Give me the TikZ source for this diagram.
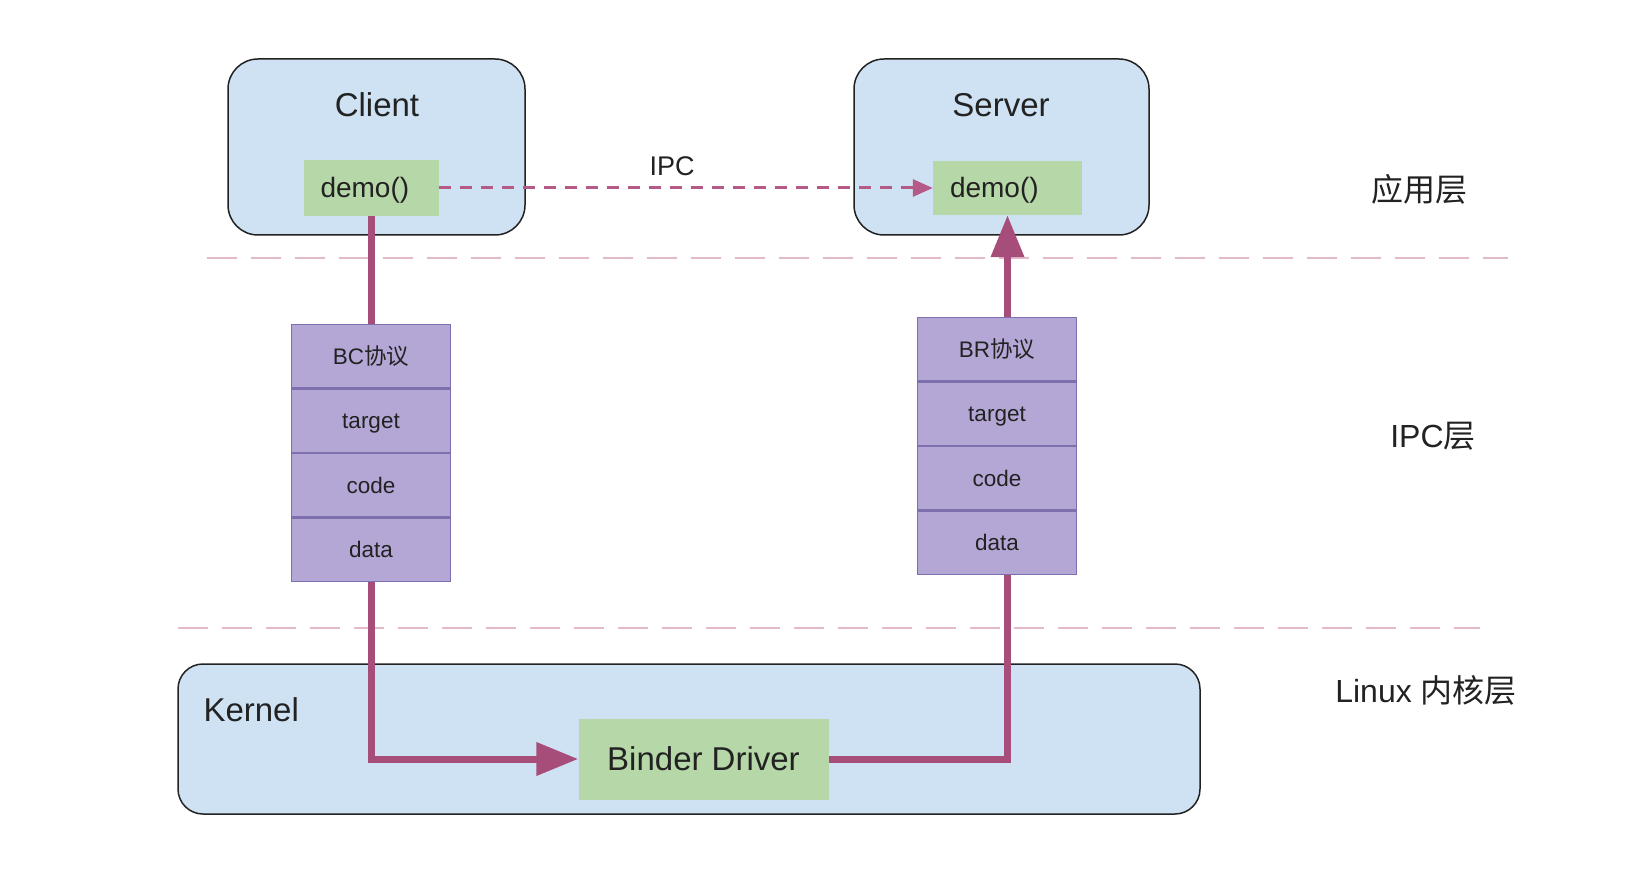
\documentclass[tikz,border=0pt]{standalone}
\usepackage{fontspec}
\setmainfont{Liberation Sans}
\newfontfamily\cjk{Noto Sans CJK SC}
\usetikzlibrary{arrows.meta}

\definecolor{procblue}{HTML}{CFE2F3}
\definecolor{funcgreen}{HTML}{B6D7A8}
\definecolor{protopurple}{HTML}{B4A7D6}
\definecolor{protoedge}{HTML}{7E6FAE}
\definecolor{flowmag}{HTML}{A64D79}
\definecolor{ipcmag}{HTML}{B55A86}
\definecolor{seppink}{HTML}{E3B9CC}
\definecolor{ink}{HTML}{222222}

\tikzset{
  every node/.style={text=ink, font=\fontsize{33}{40}\selectfont},
  procbox/.style={draw=ink, line width=1.5pt, fill=procblue, rounded corners=30pt, inner sep=0pt},
  funcbox/.style={fill=funcgreen, inner sep=0pt, text height=24pt, text depth=4pt,
    font=\fontsize{28}{34}\selectfont},
  protorow/.style={draw=protoedge, line width=1.2pt, fill=protopurple, minimum width=159pt,
    minimum height=63.25pt, inner sep=0pt, text height=19pt, text depth=3pt,
    font=\fontsize{22.5}{28}\selectfont},
  flowline/.style={draw=flowmag, line width=7pt},
  flowarrow/.style={flowline, -{Triangle[length=42pt,width=32pt]}},
  ipcarrow/.style={draw=ipcmag, line width=3pt, dash pattern=on 12pt off 9pt,
    -{Triangle[length=20pt,width=17pt]}},
  layersep/.style={draw=seppink, line width=2.5pt, dash pattern=on 30pt off 14pt},
  layerlabel/.style={font=\fontsize{32}{38}\selectfont},
}

\begin{document}
\begin{tikzpicture}[x=1pt, y=-1pt]
  \useasboundingbox (0,0) rectangle (1646,874);

  % layer separators
  \draw[layersep] (207,258) -- (1508,258);
  \draw[layersep] (178,628) -- (1480,628);

  % application layer: client and server processes
  \node[procbox, minimum width=297pt, minimum height=176pt] (client) at (376.5,147) {};
  \node (clientlbl) at (377,105) {Client};
  \node[funcbox, minimum height=56pt, text width=101pt, inner xsep=17pt, align=left]
    (cdemo) at (371,188) {demo()};

  \node[procbox, minimum width=295pt, minimum height=176pt] (server) at (1001.5,147) {};
  \node (serverlbl) at (1001,105) {Server};
  \node[funcbox, minimum height=54pt, text width=115pt, inner xsep=17pt, align=left]
    (sdemo) at (1007.5,188) {demo()};

  % logical IPC call
  \draw[ipcarrow] (cdemo.east) -- (sdemo.west);
  \node[font=\fontsize{27}{32}\selectfont] (ipclbl) at (672,166) {IPC};

  % kernel layer
  \node[procbox, rounded corners=25pt, minimum width=1022pt, minimum height=150pt] (kernel) at (689,739) {};
  \node[anchor=west] (kernellbl) at (200,710) {Kernel};
  \node[funcbox, font=\fontsize{33}{40}\selectfont, text height=26pt, text depth=3pt,
    minimum width=250pt, minimum height=81pt] (binder) at (703.5,759) {Binder Driver};

  % BC protocol packet
  \node[protorow, anchor=north] (bc1) at (371,324) {BC{\cjk 协议}};
  \node[protorow, anchor=north] (bc2) at (bc1.south) {target};
  \node[protorow, anchor=north] (bc3) at (bc2.south) {code};
  \node[protorow, anchor=north] (bc4) at (bc3.south) {data};

  % BR protocol packet
  \node[protorow, anchor=north] (br1) at (997,317) {BR{\cjk 协议}};
  \node[protorow, anchor=north] (br2) at (br1.south) {target};
  \node[protorow, anchor=north] (br3) at (br2.south) {code};
  \node[protorow, anchor=north] (br4) at (br3.south) {data};

  % actual data path through the driver
  \draw[flowline] (cdemo.south) -- (bc1.north);
  \draw[flowarrow] (bc4.south) |- (binder.west);
  \draw[flowline] (binder.east) -| (br4.south -| sdemo.south);
  \draw[flowarrow] (br1.north -| sdemo.south) -- (sdemo.south);

  % layer names
  \node[layerlabel] (applbl) at (1419,189) {\cjk 应用层};
  \node[layerlabel] (ipclayer) at (1433,436) {IPC{\cjk 层}};
  \node[layerlabel] (kernlayer) at (1426,690) {Linux {\cjk 内核层}};
\end{tikzpicture}
\end{document}
